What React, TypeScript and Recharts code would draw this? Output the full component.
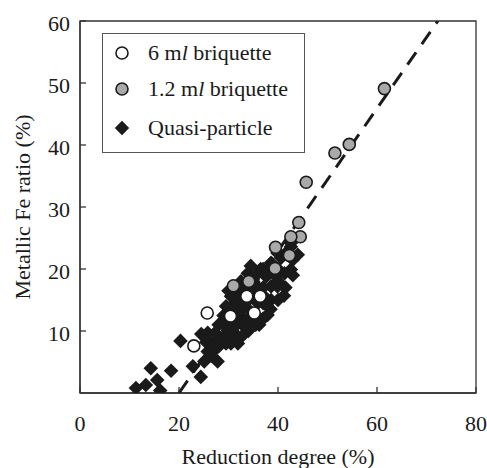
import React from "react";
import { ScatterChart, Scatter, XAxis, YAxis, ReferenceArea, Legend } from "recharts";

const briquette6 = [
  { x: 25.7, y: 12.9 },
  { x: 23.0, y: 7.6 },
  { x: 30.4, y: 12.4 },
  { x: 33.7, y: 15.6 },
  { x: 36.4, y: 15.6 },
  { x: 35.2, y: 12.9 },
];

const briquette12 = [
  { x: 61.5, y: 49.1 },
  { x: 54.4, y: 40.1 },
  { x: 51.5, y: 38.7 },
  { x: 45.7, y: 34.0 },
  { x: 44.2, y: 27.5 },
  { x: 44.5, y: 25.2 },
  { x: 42.6, y: 25.2 },
  { x: 39.5, y: 23.5 },
  { x: 42.3, y: 22.2 },
  { x: 39.4, y: 20.1 },
  { x: 34.1, y: 18.0 },
  { x: 31.0, y: 17.3 },
];

const quasi = [
  { x: 11.3, y: 0.8 }, { x: 13.3, y: 1.3 }, { x: 14.3, y: 4.0 }, { x: 15.6, y: 2.1 },
  { x: 16.2, y: 0.4 }, { x: 18.4, y: 3.6 }, { x: 20.3, y: 8.4 }, { x: 22.8, y: 4.3 },
  { x: 24.4, y: 2.6 }, { x: 25.1, y: 5.1 }, { x: 25.8, y: 6.7 }, { x: 27.1, y: 6.9 },
  { x: 27.8, y: 5.1 }, { x: 25.8, y: 9.7 }, { x: 27.3, y: 9.7 }, { x: 26.5, y: 8.0 },
  { x: 28.8, y: 11.3 }, { x: 29.8, y: 11.0 }, { x: 30.5, y: 8.0 }, { x: 31.9, y: 9.1 },
  { x: 31.9, y: 8.0 }, { x: 30.5, y: 13.9 }, { x: 30.5, y: 15.6 }, { x: 31.2, y: 12.3 },
  { x: 32.5, y: 14.5 }, { x: 33.2, y: 10.7 }, { x: 33.2, y: 11.8 }, { x: 33.9, y: 19.3 },
  { x: 34.9, y: 16.6 }, { x: 35.9, y: 14.5 }, { x: 36.2, y: 11.0 }, { x: 37.2, y: 15.6 },
  { x: 37.6, y: 18.8 }, { x: 37.9, y: 12.6 }, { x: 38.6, y: 17.2 }, { x: 38.6, y: 15.0 },
  { x: 38.6, y: 21.0 }, { x: 39.6, y: 18.8 }, { x: 39.9, y: 17.2 }, { x: 40.6, y: 21.8 },
  { x: 41.2, y: 15.7 }, { x: 41.3, y: 19.3 }, { x: 42.6, y: 19.9 }, { x: 42.6, y: 23.6 },
  { x: 44.0, y: 22.3 }, { x: 29.5, y: 9.5 }, { x: 31.0, y: 10.5 }, { x: 32.0, y: 13.0 },
  { x: 33.0, y: 16.0 }, { x: 34.0, y: 13.5 }, { x: 35.0, y: 18.0 }, { x: 36.0, y: 17.0 },
  { x: 36.5, y: 20.0 }, { x: 34.5, y: 20.5 }, { x: 30.0, y: 16.5 }, { x: 31.5, y: 17.0 },
  { x: 40.0, y: 20.0 }, { x: 29.0, y: 12.5 }, { x: 28.0, y: 9.0 }, { x: 39.9, y: 22.6 },
  { x: 42.6, y: 24.2 }, { x: 26.5, y: 6.0 }, { x: 28.0, y: 7.5 }, { x: 28.0, y: 11.0 },
  { x: 29.5, y: 8.0 }, { x: 29.5, y: 12.0 }, { x: 29.5, y: 14.0 }, { x: 31.0, y: 8.5 },
  { x: 31.0, y: 13.5 }, { x: 31.0, y: 15.5 }, { x: 32.5, y: 9.0 }, { x: 32.5, y: 11.5 },
  { x: 32.5, y: 16.5 }, { x: 32.5, y: 18.0 }, { x: 34.0, y: 10.0 }, { x: 34.0, y: 12.0 },
  { x: 34.0, y: 15.0 }, { x: 34.0, y: 17.5 }, { x: 35.5, y: 11.0 }, { x: 35.5, y: 16.0 },
  { x: 35.5, y: 19.0 }, { x: 37.0, y: 12.0 }, { x: 37.0, y: 14.5 }, { x: 37.0, y: 17.0 },
  { x: 37.0, y: 20.0 }, { x: 38.5, y: 13.5 }, { x: 38.5, y: 19.5 }, { x: 40.0, y: 15.0 },
  { x: 40.0, y: 18.0 }, { x: 41.5, y: 17.0 }, { x: 41.5, y: 22.5 }, { x: 43.0, y: 19.0 },
  { x: 43.0, y: 21.5 }, { x: 24.5, y: 9.5 }, { x: 25.5, y: 8.2 },
];

const fitLine = [
  { x: 20.0, y: 0 },
  { x: 72.3, y: 60 },
];

const xTicks = [0, 20, 40, 60, 80];
const yTicks = [10, 20, 30, 40, 50, 60];

const seriesNames = ["6 ml briquette", "1.2 ml briquette", "Quasi-particle"];

const FONT = "'Liberation Serif', 'Times New Roman', serif";
const INK = "#1a1a1a";
const GRAY = "#a9a9a9";

const Diamond = (props: any) => {
  const { cx, cy } = props;
  if (cx == null || cy == null) return null;
  const h = 7.3;
  return (
    <polygon
      points={`${cx},${cy - h} ${cx + h},${cy} ${cx},${cy + h} ${cx - h},${cy}`}
      fill={INK}
    />
  );
};

const makeCircle = (fill: string) => (props: any) => {
  const { cx, cy } = props;
  if (cx == null || cy == null) return null;
  return <circle cx={cx} cy={cy} r={6} fill={fill} stroke={INK} strokeWidth={1.6} />;
};

const NoShape = () => null;

const nameWithItalicL = (name: string) => {
  const idx = name.indexOf("ml ");
  if (idx < 0) return name;
  return (
    <>
      {name.slice(0, idx + 1)}
      <i>l</i>
      {name.slice(idx + 2)}
    </>
  );
};

const LegendBox = () => {
  const rows = [
    { marker: <circle cx={9} cy={9} r={6} fill="#fff" stroke={INK} strokeWidth={1.6} />, top: 7 },
    { marker: <circle cx={9} cy={9} r={6} fill={GRAY} stroke={INK} strokeWidth={1.6} />, top: 43 },
    { marker: <polygon points="9,1.8 16.2,9 9,16.2 1.8,9" fill={INK} />, top: 82 },
  ];
  return (
    <div
      style={{
        position: "relative",
        width: 203,
        height: 120,
        border: "1px solid #555",
        boxSizing: "border-box",
        background: "#fff",
        fontFamily: FONT,
        fontSize: 22,
        color: INK,
      }}
    >
      {rows.map((r, i) => (
        <div key={i} style={{ position: "absolute", left: 10, top: r.top - 1, height: 26, display: "flex", alignItems: "center", whiteSpace: "nowrap" }}>
          <svg width={18} height={18} style={{ marginRight: 17 }}>{r.marker}</svg>
          <span style={{ lineHeight: "26px" }}>{nameWithItalicL(seriesNames[i])}</span>
        </div>
      ))}
    </div>
  );
};

const YLabel = (props: any) => {
  const vb = props.viewBox || { x: 0, y: 21, width: 80, height: 372 };
  const x = vb.x + 30;
  const y = vb.y + vb.height / 2;
  return (
    <text
      x={x}
      y={y}
      transform={`rotate(-90, ${x}, ${y})`}
      textAnchor="middle"
      fontFamily={FONT}
      fontSize={22}
      fill={INK}
    >
      Metallic Fe ratio (%)
    </text>
  );
};

export default function App() {
  return (
    <div style={{ position: "absolute", left: 0, top: 0, background: "#fff" }}>
      <ScatterChart width={487} height={468} margin={{ top: 21, right: 11, left: 0, bottom: 0 }}>
        <ReferenceArea x1={0} x2={80} y1={0} y2={60} fill="none" stroke="#333" strokeWidth={1.3} ifOverflow="visible" />
        <XAxis
          type="number"
          dataKey="x"
          domain={[0, 80]}
          ticks={xTicks}
          height={75}
          tickSize={-6}
          tickMargin={28}
          axisLine={{ stroke: "#333", strokeWidth: 1.3 }}
          tickLine={{ stroke: "#333", strokeWidth: 1.3 }}
          tick={{ fontFamily: FONT, fontSize: 22, fill: INK }}
          interval={0}
          allowDataOverflow
          label={{ value: "Reduction degree (%)", position: "insideBottom", offset: 4, fontFamily: FONT, fontSize: 22, fill: INK }}
        />
        <YAxis
          type="number"
          dataKey="y"
          domain={[0, 60]}
          ticks={yTicks}
          width={80}
          tickSize={-6}
          tickMargin={16}
          axisLine={{ stroke: "#333", strokeWidth: 1.3 }}
          tickLine={{ stroke: "#333", strokeWidth: 1.3 }}
          tick={{ fontFamily: FONT, fontSize: 22, fill: INK, dy: 2 }}
          interval={0}
          allowDataOverflow
          label={{ content: YLabel }}
        />
        <Scatter
          name="fit"
          data={fitLine}
          line={{ stroke: INK, strokeWidth: 3, strokeDasharray: "15 10" }}
          shape={NoShape}
          isAnimationActive={false}
          legendType="none"
        />
        <Scatter name={seriesNames[2]} data={quasi} shape={Diamond} isAnimationActive={false} />
        <Scatter name={seriesNames[0]} data={briquette6} shape={makeCircle("#fff")} isAnimationActive={false} />
        <Scatter name={seriesNames[1]} data={briquette12} shape={makeCircle(GRAY)} isAnimationActive={false} />
        <Legend
          layout="vertical"
          align="center"
          verticalAlign="middle"
          wrapperStyle={{ left: 102, top: 33, width: 203, height: 120 }}
          content={() => <LegendBox />}
        />
      </ScatterChart>
    </div>
  );
}
